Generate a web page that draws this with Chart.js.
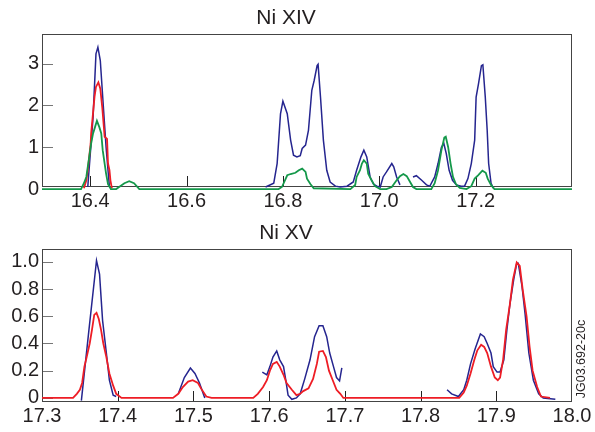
<!DOCTYPE html>
<html>
<head>
<meta charset="utf-8">
<script src="https://cdn.jsdelivr.net/npm/chart.js@4"></script>
<style>
    body { margin: 0; background: #fff; }
    #wrap { position: relative; width: 595px; height: 432px; }
    .panel { position: absolute; left: 0; width: 595px; }
</style>
</head>
<body>
<div id="wrap">
    <div class="panel" style="top:0;height:216px"><canvas id="chartTop" width="595" height="216"></canvas></div>
    <div class="panel" style="top:215px;height:217px"><canvas id="chartBottom" width="595" height="217"></canvas></div>
</div>
<script>
// Ni XIV (top panel)
var topXTicks = [16.4, 16.6, 16.8, 17.0, 17.2];
var topXLabels = ["16.4", "16.6", "16.8", "17.0", "17.2"];
var topYTicks = [0, 1, 2, 3];
var topYLabels = ["0", "1", "2", "3"];

var topBlueX = [16.395, 16.406, 16.412, 16.416, 16.421, 16.426, 16.433, 16.437, 16.440, 16.6,
    16.764, 16.781, 16.788, 16.795, 16.800, 16.809, 16.816, 16.822, 16.829, 16.836, 16.840, 16.847, 16.853, 16.860, 16.865,
    16.871, 16.873, 16.878, 16.884, 16.891, 16.898, 16.909, 16.919, 16.933, 16.946, 16.953, 16.962, 16.968, 16.974, 16.981,
    16.988, 16.995, 17.002, 17.008, 17.015, 17.026, 17.030, 17.036, 17.043, 17.056,
    17.070, 17.077, 17.088, 17.098, 17.105, 17.115, 17.122, 17.129, 17.134, 17.139, 17.145, 17.152, 17.160, 17.170, 17.177,
    17.184, 17.191, 17.198, 17.201, 17.206, 17.212, 17.215, 17.220, 17.224, 17.227, 17.232, 17.237];
var topBlueY = [0.05, 1.72, 3.23, 3.39, 3.07, 2.2, 1.0, 0.45, 0.05, null,
    0.05, 0.14, 0.61, 1.80, 2.10, 1.80, 1.17, 0.81, 0.77, 0.80, 0.97, 1.05, 1.40, 2.36, 2.6,
    2.95, 2.98, 2.2, 1.17, 0.45, 0.17, 0.07, 0.05, 0.07, 0.17, 0.45, 0.77, 0.93, 0.77, 0.29,
    0.12, 0.07, 0.05, 0.29, 0.41, 0.61, 0.53, 0.29, 0.1, null,
    0.29, 0.32, 0.21, 0.1, 0.07, 0.29, 0.61, 1.0, 1.09, 0.85, 0.45, 0.21, 0.1, 0.07, 0.07,
    0.25, 0.61, 1.17, 2.2, 2.52, 2.95, 2.97, 2.2, 1.40, 0.61, 0.14, 0.02];

var topRedX = [16.387, 16.392, 16.395, 16.401, 16.402, 16.409, 16.412, 16.417, 16.421, 16.425, 16.430, 16.435, 16.437, 16.440, 16.442, 16.445];
var topRedY = [0.02, 0.21, 0.45, 1.09, 1.33, 2.2, 2.44, 2.55, 2.4, 1.96, 1.25, 1.2, 0.61, 0.45, 0.21, 0.02];

var topGreenX = [16.3, 16.381, 16.387, 16.392, 16.396, 16.402, 16.406, 16.410, 16.414, 16.419, 16.423, 16.426, 16.430, 16.433, 16.437,
    16.443, 16.454, 16.471, 16.481, 16.491, 16.502, 16.791, 16.798, 16.809, 16.816, 16.826, 16.833, 16.840, 16.847, 16.850,
    16.857, 16.864, 16.940, 16.950, 16.953, 16.960, 16.964, 16.968, 16.974, 16.977, 16.984, 16.991, 17.002, 17.015, 17.026,
    17.036, 17.043, 17.050, 17.057, 17.064, 17.070, 17.077, 17.108, 17.115, 17.122, 17.129, 17.135, 17.138, 17.143, 17.148,
    17.153, 17.159, 17.167, 17.181, 17.191, 17.198, 17.205, 17.214, 17.221, 17.225, 17.232, 17.239, 17.4];
var topGreenY = [0, 0, 0.14, 0.29, 0.61, 1.09, 1.33, 1.48, 1.63, 1.48, 1.33, 0.93, 0.61, 0.37, 0.12,
    0, 0, 0.14, 0.19, 0.14, 0, 0, 0.05, 0.33, 0.36, 0.39, 0.45, 0.49, 0.41, 0.25,
    0.12, 0.02, 0, 0.1, 0.29, 0.45, 0.61, 0.69, 0.61, 0.37, 0.21, 0.07, 0, 0, 0.05,
    0.21, 0.31, 0.36, 0.31, 0.17, 0.05, 0, 0, 0.14, 0.45, 0.93, 1.23, 1.25, 1.0, 0.61,
    0.29, 0.12, 0.03, 0, 0.07, 0.25, 0.33, 0.44, 0.39, 0.25, 0.1, 0, 0];

// Ni XV (bottom panel)
var bottomXTicks = [17.3, 17.4, 17.5, 17.6, 17.7, 17.8, 17.9, 18.0];
var bottomXLabels = ["17.3", "17.4", "17.5", "17.6", "17.7", "17.8", "17.9", "18.0"];
var bottomYTicks = [0, 0.2, 0.4, 0.6, 0.8, 1.0];
var bottomYLabels = ["0", "0.2", "0.4", "0.6", "0.8", "1.0"];

var bottomBlueX = [17.352, 17.362, 17.372, 17.376, 17.380, 17.385, 17.389, 17.394, 17.398, 17.44,
    17.480, 17.488, 17.496, 17.502, 17.508, 17.513, 17.515, 17.55,
    17.591, 17.597, 17.601, 17.605, 17.610, 17.614, 17.619, 17.622, 17.625, 17.630, 17.636, 17.641, 17.647, 17.654, 17.660,
    17.666, 17.671, 17.676, 17.680, 17.685, 17.689, 17.693, 17.696, 17.76,
    17.835, 17.841, 17.850, 17.857, 17.861, 17.866, 17.872, 17.879, 17.884, 17.888, 17.893, 17.896, 17.901, 17.905, 17.910,
    17.914, 17.918, 17.923, 17.927, 17.929, 17.934, 17.938, 17.943, 17.949, 17.956, 17.962, 17.978];
var bottomBlueY = [-0.02, 0.50, 1.01, 0.91, 0.57, 0.33, 0.13, 0.02, 0.01, null,
    0.03, 0.15, 0.22, 0.18, 0.11, 0.03, 0.0, null,
    0.19, 0.17, 0.23, 0.30, 0.345, 0.28, 0.23, 0.13, 0.02, -0.01, 0, 0.03, 0.14, 0.28, 0.45,
    0.53, 0.53, 0.45, 0.33, 0.23, 0.15, 0.125, 0.22, null,
    0.06, 0.03, 0.01, 0.06, 0.13, 0.25, 0.36, 0.47, 0.45, 0.40, 0.33, 0.23, 0.19, 0.19, 0.28,
    0.50, 0.69, 0.87, 0.99, 0.99, 0.82, 0.62, 0.33, 0.13, 0.03, 0, -0.01];

var bottomRedX = [17.3, 17.341, 17.346, 17.350, 17.353, 17.356, 17.359, 17.363, 17.366, 17.369, 17.372, 17.375, 17.378, 17.381, 17.385,
    17.389, 17.394, 17.398, 17.405, 17.473, 17.480, 17.486, 17.493, 17.499, 17.506, 17.510, 17.517, 17.524, 17.579, 17.585,
    17.592, 17.597, 17.601, 17.605, 17.610, 17.614, 17.619, 17.623, 17.630, 17.636, 17.641, 17.645, 17.652, 17.658, 17.663,
    17.666, 17.671, 17.675, 17.679, 17.684, 17.689, 17.694, 17.698, 17.851, 17.857, 17.861, 17.866, 17.871, 17.875, 17.880,
    17.884, 17.888, 17.893, 17.898, 17.902, 17.905, 17.909, 17.913, 17.918, 17.922, 17.927, 17.931, 17.935, 17.940, 17.944,
    17.948, 17.954, 17.959, 17.971];
var bottomRedY = [0, 0, 0.03, 0.06, 0.11, 0.23, 0.30, 0.40, 0.50, 0.61, 0.625, 0.58, 0.50, 0.40, 0.30,
    0.18, 0.09, 0.03, 0, 0, 0.03, 0.08, 0.12, 0.13, 0.11, 0.07, 0.01, 0, 0, 0.03,
    0.08, 0.13, 0.20, 0.25, 0.265, 0.23, 0.17, 0.11, 0.06, 0.02, 0.03, 0.05, 0.07, 0.14, 0.25,
    0.34, 0.345, 0.30, 0.20, 0.13, 0.06, 0.03, 0, 0, 0.04, 0.09, 0.18, 0.28, 0.35, 0.39,
    0.375, 0.33, 0.23, 0.15, 0.13, 0.15, 0.28, 0.50, 0.69, 0.87, 0.995, 0.97, 0.79, 0.60, 0.375,
    0.20, 0.08, 0.01, 0];

var BLUE = "#25258f";
var RED = "#ee1d25";
var GREEN = "#14984a";
var TEXT = "#231f20";
var FONT = "'Liberation Sans', Arial, sans-serif";

Chart.defaults.font.family = FONT;
Chart.defaults.color = TEXT;

function toPoints(xs, ys) {
    return xs.map(function (x, i) { return { x: x, y: ys[i] }; });
}

function lineSet(xs, ys, color, width, order) {
    return {
        data: toPoints(xs, ys),
        borderColor: color,
        borderWidth: width,
        pointRadius: 0,
        tension: 0,
        spanGaps: false,
        clip: false,
        order: order
    };
}

// box round the plot area and the small ticks pointing inwards
var boxPlugin = {
    id: "boxPlugin",
    beforeDatasetsDraw: function (chart) {
        const ctx = chart.ctx;
        const a = chart.chartArea;
        const xs = chart.scales.x;
        const ys = chart.scales.y;
        ctx.save();
        ctx.lineWidth = 1;
        ctx.strokeStyle = "#222";
        xs.ticks.forEach(function (t) {
            const px = Math.round(xs.getPixelForValue(t.value)) + 0.5;
            if (px < a.left + 2 || px > a.right - 2) return;
            ctx.beginPath();
            ctx.moveTo(px, a.bottom);
            ctx.lineTo(px, a.bottom - 11);
            ctx.stroke();
        });
        ctx.strokeStyle = "#777";
        ys.ticks.forEach(function (t) {
            const py = Math.round(ys.getPixelForValue(t.value)) + 0.5;
            if (py < a.top + 2 || py > a.bottom - 2) return;
            ctx.beginPath();
            ctx.moveTo(a.left, py);
            ctx.lineTo(a.left + 11, py);
            ctx.stroke();
        });
        ctx.strokeStyle = "#444";
        ctx.strokeRect(Math.round(a.left) + 0.5, Math.round(a.top) + 0.5,
            Math.round(a.right - a.left) - 1, Math.round(a.bottom - a.top) - 1);
        ctx.restore();
    }
};

var stampPlugin = {
    id: "stampPlugin",
    afterDraw: function (chart) {
        const ctx = chart.ctx;
        ctx.save();
        ctx.translate(582, 144);
        ctx.rotate(-Math.PI / 2);
        ctx.font = "12.5px " + FONT;
        ctx.fillStyle = TEXT;
        ctx.textAlign = "center";
        ctx.textBaseline = "middle";
        ctx.fillText("JG03.692-20c", 0, 0);
        ctx.restore();
    }
};

function makeScales(xMin, xMax, xTicks, xLabels, yMin, yMax, yTicks, yLabels, xHeight) {
    return {
        x: {
            type: "linear",
            min: xMin,
            max: xMax,
            grid: { display: false, drawTicks: false },
            border: { display: false },
            afterBuildTicks: function (scale) {
                scale.ticks = xTicks.map(function (v) { return { value: v }; });
            },
            afterFit: function (scale) { scale.height = xHeight; },
            ticks: {
                autoSkip: false,
                maxRotation: 0,
                padding: 2,
                font: { size: 20 },
                color: TEXT,
                callback: function (v) { return xLabels[xTicks.indexOf(v)]; }
            }
        },
        y: {
            type: "linear",
            min: yMin,
            max: yMax,
            grid: { display: false, drawTicks: false },
            border: { display: false },
            afterBuildTicks: function (scale) {
                scale.ticks = yTicks.map(function (v) { return { value: v }; });
            },
            afterFit: function (scale) { scale.width = 42; },
            ticks: {
                autoSkip: false,
                padding: 3,
                font: { size: 20 },
                color: TEXT,
                callback: function (v) { return yLabels[yTicks.indexOf(v)]; }
            }
        }
    };
}

function makeOptions(title, scales) {
    return {
        responsive: false,
        animation: false,
        layout: { padding: { left: 0, right: 23, top: 0, bottom: 0 } },
        plugins: {
            legend: { display: false },
            tooltip: { enabled: false },
            title: {
                display: true,
                text: title,
                color: TEXT,
                font: { size: 21, weight: "normal" },
                padding: { top: 6, bottom: 3 }
            }
        },
        scales: scales
    };
}

new Chart(document.getElementById("chartTop"), {
    type: "line",
    data: {
        datasets: [
            lineSet(topGreenX, topGreenY, GREEN, 1.8, 0),
            lineSet(topRedX, topRedY, RED, 1.8, 1),
            lineSet(topBlueX, topBlueY, BLUE, 1.5, 2)
        ]
    },
    options: makeOptions("Ni XIV", makeScales(16.3, 17.4, topXTicks, topXLabels, 0.05, 3.7, topYTicks, topYLabels, 29)),
    plugins: [boxPlugin]
});

new Chart(document.getElementById("chartBottom"), {
    type: "line",
    data: {
        datasets: [
            lineSet(bottomRedX, bottomRedY, RED, 1.8, 0),
            lineSet(bottomBlueX, bottomBlueY, BLUE, 1.5, 1)
        ]
    },
    options: makeOptions("Ni XV", makeScales(17.3, 18.0, bottomXTicks, bottomXLabels, -0.03, 1.093, bottomYTicks, bottomYLabels, 30)),
    plugins: [boxPlugin, stampPlugin]
});
</script>
</body>
</html>
